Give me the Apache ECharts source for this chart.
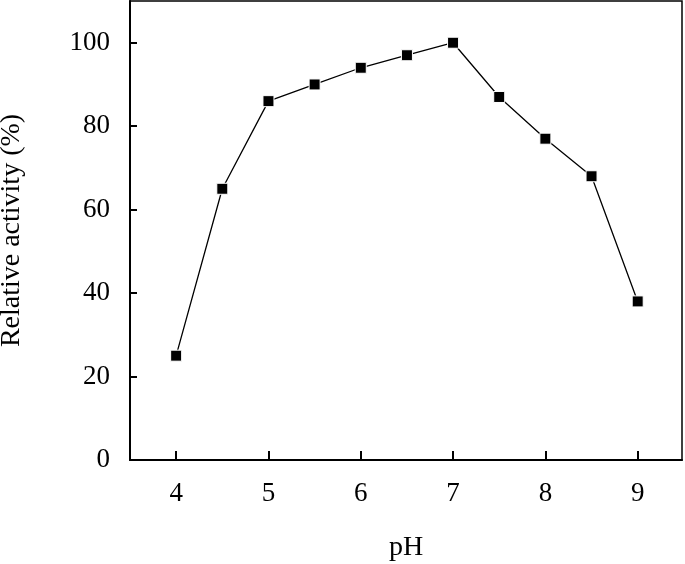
<!DOCTYPE html>
<html><head><meta charset="utf-8">
<script src="https://cdn.jsdelivr.net/npm/echarts@6/dist/echarts.min.js"></script>
<style>html,body{margin:0;padding:0;background:#fff}#c{width:685px;height:564px}</style>
</head><body><div id="c"></div>
<script>
const phValues = [4, 4.5, 5, 5.5, 6, 6.5, 7, 7.5, 8, 8.5, 9];
const activity = [25, 65, 86, 90, 94, 97, 100, 87, 77, 68, 38];
const xTicks = [4, 5, 6, 7, 8, 9];
const yTicks = [0, 20, 40, 60, 80, 100];
const xName = 'pH';
const yName = 'Relative activity (%)';

const font = 'Liberation Serif';
const chart = echarts.init(document.getElementById('c'));
chart.setOption({
  animation: false,
  backgroundColor: '#fff',
  grid: {left: 130, right: 3, top: 1, bottom: 104, outerBoundsMode: 'none', containLabel: false,
         show: true, borderColor: '#000', borderWidth: 1.5},
  xAxis: {
    type: 'value', min: 3.5, max: 9.48,
    name: xName, nameLocation: 'middle', nameGap: 74,
    nameTextStyle: {fontFamily: font, fontSize: 28, color: '#000'},
    axisLine: {show: true, onZero: false, lineStyle: {color: '#000', width: 2}},
    axisTick: {show: true, inside: true, length: 9, customValues: xTicks, lineStyle: {color: '#000', width: 2}},
    axisLabel: {customValues: xTicks, margin: 20, fontFamily: font, fontSize: 27, color: '#000'},
    splitLine: {show: false}
  },
  yAxis: {
    type: 'value', min: 0, max: 110,
    name: yName, nameLocation: 'middle', nameGap: 104,
    nameTextStyle: {fontFamily: font, fontSize: 28, color: '#000'},
    axisLine: {show: true, lineStyle: {color: '#000', width: 2}},
    axisTick: {show: true, inside: true, length: 7, customValues: yTicks, lineStyle: {color: '#000', width: 2}},
    axisLabel: {customValues: yTicks, margin: 20, fontFamily: font, fontSize: 27, color: '#000'},
    splitLine: {show: false}
  },
  series: [{
    type: 'line',
    data: phValues.map((x, i) => [x, activity[i]]),
    symbol: 'rect', symbolSize: 11,
    lineStyle: {color: '#000', width: 1.3},
    itemStyle: {color: '#000', borderColor: '#fff', borderWidth: 1}
  }]
});
</script></body></html>
